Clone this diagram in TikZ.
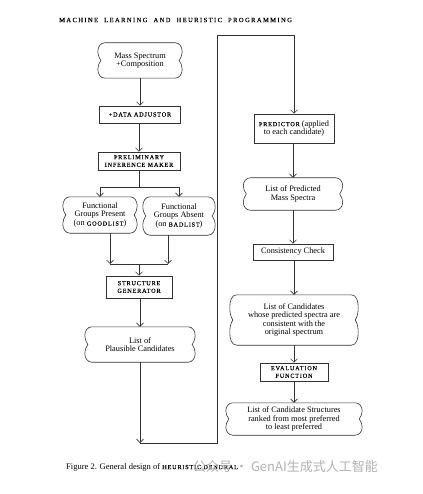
\documentclass[tikz,border=0pt]{standalone}
\usepackage{fontspec}
\setmainfont{Liberation Serif}
\newfontfamily\cjkfont{Noto Sans CJK SC}
\usetikzlibrary{arrows.meta,calc}
\newcommand\sct[1]{{\fontsize{6.2}{7}\selectfont\addfontfeatures{LetterSpace=13,FakeBold=0.15}#1}}
\newcommand\txt{\fontsize{8.3}{8.6}\selectfont}
\newcommand\cloudify[1]{%
 \draw[ln]
  ($(#1.north west)+(4pt,0)$) -- ($(#1.north east)+(-4pt,0)$)
  to[out=0,in=90] ($(#1.north east)!0.25!(#1.south east)+(3pt,0)$)
  to[out=-90,in=60] (#1.east)
  to[out=-60,in=90] ($(#1.north east)!0.75!(#1.south east)+(3pt,0)$)
  to[out=-90,in=0] ($(#1.south east)+(-4pt,0)$)
  -- ($(#1.south west)+(4pt,0)$)
  to[out=180,in=-90] ($(#1.north west)!0.75!(#1.south west)+(-3pt,0)$)
  to[out=90,in=-120] (#1.west)
  to[out=120,in=-90] ($(#1.north west)!0.25!(#1.south west)+(-3pt,0)$)
  to[out=90,in=180] cycle;}
\tikzset{
 ln/.style={line width=0.6pt, draw=black!80},
 arr/.style={ln, -{Straight Barb[length=3.5pt,width=7pt]}},
 boxn/.style={ln, draw, rectangle, align=center, inner sep=0pt, font=\txt},
 cloudn/.style={align=center, inner sep=0pt, font=\txt},
}
\begin{document}
\begin{tikzpicture}[x=1pt,y=-1pt]
\useasboundingbox[fill=white] (0,0) rectangle (422,494);
% header
\node[font=\fontsize{6.5}{7}\selectfont\addfontfeatures{LetterSpace=22,FakeBold=0.15}, anchor=west, inner sep=0pt] (hdr) at (59,20) {MACHINE\ \ LEARNING\ \ AND\ \ HEURISTIC\ \ PROGRAMMING};
% left column
\node[cloudn, minimum width=78pt, minimum height=35pt] (src) at (140,60.5) {Mass Spectrum\\+Composition};
\node[boxn, minimum width=81pt, minimum height=17pt] (adj) at (140,114.5) {\sct{+DATA ADJUSTOR}};
\node[boxn, minimum width=82pt, minimum height=18pt] (pim) at (139,161) {\sct{PRELIMINARY}\\[-1pt]\sct{INFERENCE MAKER}};
\node[cloudn, minimum width=68pt, minimum height=36pt] (gp) at (100,215) {Functional\\Groups Present\\(on \sct{GOODLIST})};
\node[cloudn, minimum width=66pt, minimum height=38pt] (ga) at (179,216) {Functional\\Groups Absent\\(on \sct{BADLIST})};
\node[boxn, minimum width=66pt, minimum height=22pt] (sg) at (139,287) {\sct{STRUCTURE}\\[-1pt]\sct{GENERATOR}};
\node[cloudn, minimum width=104pt, minimum height=35pt] (lpc) at (140,344.5) {List of\\Plausible Candidates};
% right column
\node[boxn, minimum width=80pt, minimum height=29pt] (pred) at (294,128.5) {\sct{PREDICTOR} (applied\\to each candidate)};
\node[cloudn, minimum width=93pt, minimum height=32pt] (lpm) at (293,194) {List of Predicted\\Mass Spectra};
\node[boxn, minimum width=80pt, minimum height=16pt] (cc) at (293,252) {Consistency Check};
\node[cloudn, minimum width=122pt, minimum height=50pt] (lc) at (294,320) {List of Candidates\\whose predicted spectra are\\consistent with the\\original spectrum};
\node[boxn, minimum width=68pt, minimum height=18pt] (ef) at (294,372) {\sct{EVALUATION}\\[-1pt]\sct{FUNCTION}};
\node[cloudn, minimum width=130pt, minimum height=32pt] (lcs) at (294,419) {List of Candidate Structures\\ranked from most preferred\\to least preferred};
\foreach \n in {src,gp,ga,lpc,lpm,lc,lcs} {\cloudify{\n}}
% connectors
\coordinate (fork) at (139,187);
\coordinate (j1) at (110,264);
\coordinate (j2) at (168,264);
\coordinate (jm) at (139,264);
\coordinate (c1) at (140,443);
\coordinate (c2) at (217,443);
\coordinate (c3) at (217,35);
\coordinate (c4) at (294,35);
\draw[arr] (src.south) -- (adj.north);
\draw[arr] (adj.south -| pim.north) -- (pim.north);
\draw[ln] (pim.south) -- (fork);
\draw[arr] (fork) -| (gp.north);
\draw[arr] (fork) -| (ga.north);
\draw[arr] (gp.south -| j1) -- (j1);
\draw[arr] (ga.south -| j2) -- (j2);
\draw[ln] (j1) -- (j2);
\draw[arr] (jm) -- (sg.north);
\draw[arr] (sg.south -| lpc.north) -- (lpc.north);
\draw[arr] (lpc.south) -- (c1);
\draw[arr] (c1) -- (c2) -- (c3) -- (c4) -- (pred.north);
\draw[arr] (pred.south -| lpm.north) -- (lpm.north);
\draw[arr] (lpm.south) -- (cc.north);
\draw[arr] (cc.south -| lc.north) -- (lc.north);
\draw[arr] (lc.south) -- (ef.north);
\draw[arr] (ef.south) -- (lcs.north);
% caption
\node[anchor=west, font=\fontsize{8.5}{9}\selectfont, inner sep=0pt] (cap) at (66,467) {Figure 2. General design of \sct{HEURISTIC DENDRAL}};
\node[anchor=west, font=\cjkfont\fontsize{13}{14}\selectfont, text=black!30, inner sep=0pt] (wm) at (193,467) {公众号 · GenAI生成式人工智能};
\end{tikzpicture}
\end{document}
